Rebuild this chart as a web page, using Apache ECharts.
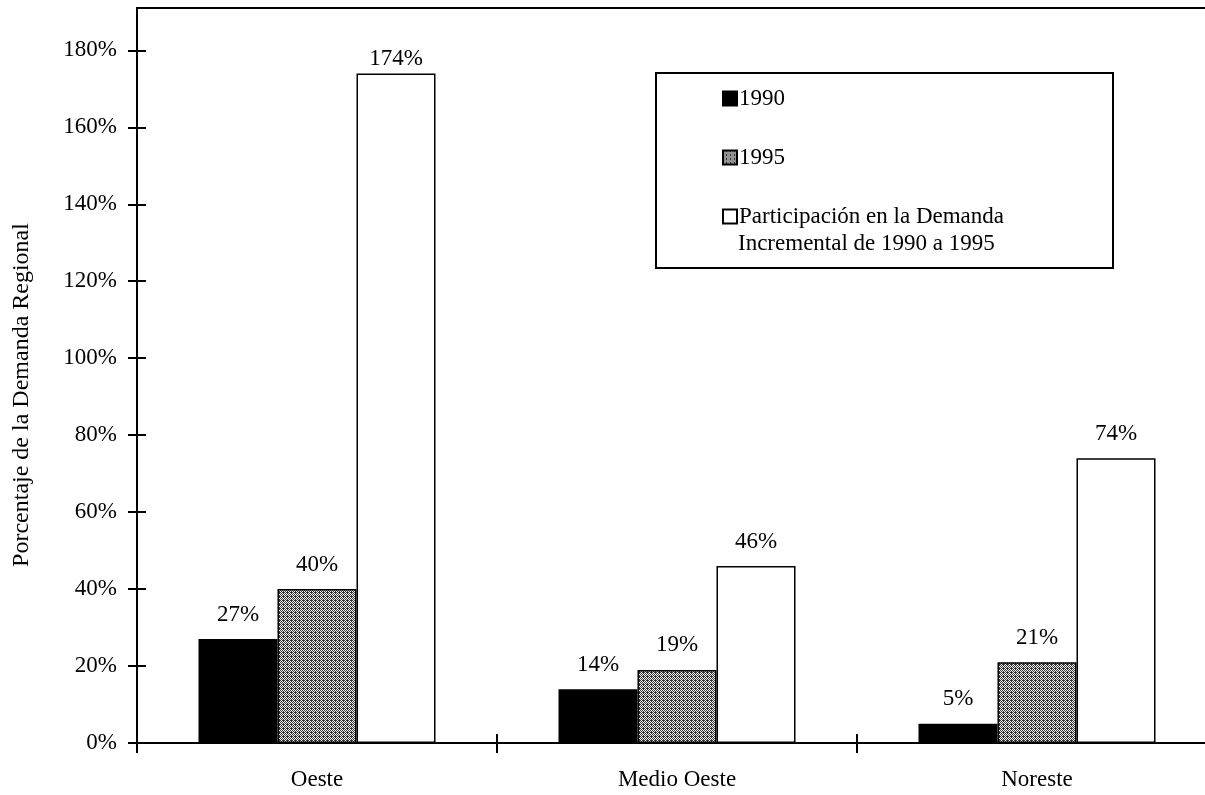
<!DOCTYPE html>
<html>
<head>
<meta charset="utf-8">
<script src="https://cdn.jsdelivr.net/npm/echarts@6/dist/echarts.min.js"></script>
<style>
  html, body { margin: 0; padding: 0; background: #fff; }
  #chart { width: 1205px; height: 795px; }
</style>
</head>
<body>
<div id="chart"></div>
<script>
var regions = ['Oeste', 'Medio Oeste', 'Noreste'];
var seriesNames = ['1990', '1995', 'Participación en la Demanda'];
var values1990 = [27, 14, 5];
var values1995 = [40, 19, 21];
var valuesIncremental = [174, 46, 74];
var yTicks = [0, 20, 40, 60, 80, 100, 120, 140, 160, 180];

var FONT = 'Liberation Serif';

// dithered gray fill like the printed original
function makePattern() {
    var c = document.createElement('canvas');
    c.width = 4; c.height = 4;
    var ctx = c.getContext('2d');
    ctx.fillStyle = '#f2f2f2';
    ctx.fillRect(0, 0, 4, 4);
    ctx.fillStyle = '#333';
    var dots = [[0,0],[2,0],[1,1],[3,1],[0,2],[2,2],[1,3],[3,3],[3,0]];
    dots.forEach(function (d) { ctx.fillRect(d[0], d[1], 1, 1); });
    return c;
}
var grayFill = { image: makePattern(), repeat: 'repeat' };

function barData(vals) {
    return vals.map(function (v) {
        if (v > 170) {
            return { value: v, label: { distance: 3 } };
        }
        return v;
    });
}

var chart = echarts.init(document.getElementById('chart'));

var labelStyle = {
    show: true,
    position: 'top',
    distance: 13,
    color: '#000',
    fontFamily: FONT,
    fontSize: 23,
    formatter: '{c}%'
};

var option = {
    animation: false,
    backgroundColor: '#fff',
    grid: {
        left: 137,
        top: 8,
        width: 1080,
        height: 735,
        outerBoundsMode: 'none',
        containLabel: false,
        show: true,
        borderColor: '#000',
        borderWidth: 2,
        backgroundColor: 'transparent'
    },
    legend: {
        orient: 'vertical',
        left: 717,
        top: 82,
        itemWidth: 14,
        itemHeight: 14,
        itemGap: 36,
        icon: 'rect',
        data: seriesNames,
        textStyle: { fontFamily: FONT, fontSize: 23, color: '#000', lineHeight: 23, padding: [0, 0, 0, -3] }
    },
    xAxis: [{
        type: 'category',
        data: regions,
        axisLine: { lineStyle: { color: '#000', width: 2 } },
        axisTick: { show: true, length: 10, lineStyle: { color: '#000', width: 2 } },
        axisLabel: { color: '#000', fontFamily: FONT, fontSize: 23, margin: 25 },
        splitLine: { show: false }
    }, {
        type: 'category',
        data: regions,
        position: 'bottom',
        axisLine: { show: false },
        axisTick: { show: true, inside: true, length: 9, lineStyle: { color: '#000', width: 2 } },
        axisLabel: { show: false },
        splitLine: { show: false }
    }],
    yAxis: [{
        type: 'value',
        min: 0,
        max: 191,
        interval: 20,
        axisLine: { show: true, lineStyle: { color: '#000', width: 2 } },
        axisTick: { show: true, length: 9, customValues: yTicks, lineStyle: { color: '#000', width: 2 } },
        axisLabel: { color: '#000', fontFamily: FONT, fontSize: 23, margin: 20, customValues: yTicks,
            formatter: '{value}%' },
        splitLine: { show: false }
    }, {
        type: 'value',
        min: 0,
        max: 191,
        interval: 20,
        position: 'left',
        axisLine: { show: false },
        axisTick: { show: true, inside: true, length: 9, customValues: yTicks, lineStyle: { color: '#000', width: 2 } },
        axisLabel: { show: false },
        splitLine: { show: false }
    }],
    series: [{
        name: seriesNames[0],
        type: 'bar',
        barGap: 0,
        barWidth: 79,
        data: barData(values1990),
        itemStyle: { color: '#000', borderColor: '#000', borderWidth: 1.5 },
        label: labelStyle
    }, {
        name: seriesNames[1],
        type: 'bar',
        barGap: 0,
        barWidth: 79,
        data: barData(values1995),
        itemStyle: { color: grayFill, borderColor: '#000', borderWidth: 1.5 },
        label: labelStyle
    }, {
        name: seriesNames[2],
        type: 'bar',
        barGap: 0,
        barWidth: 79,
        data: barData(valuesIncremental),
        itemStyle: { color: '#fff', borderColor: '#000', borderWidth: 1.5 },
        label: labelStyle
    }],
    graphic: [{
        type: 'rect',
        left: 655,
        top: 72,
        shape: { width: 457, height: 195 },
        style: { fill: 'transparent', stroke: '#000', lineWidth: 2 },
        z: 10
    }, {
        type: 'text',
        x: 738,
        y: 244,
        style: { text: 'Incremental de 1990 a 1995', font: '23px "Liberation Serif"', fill: '#000',
            textVerticalAlign: 'middle' },
        z: 10
    }, {
        type: 'text',
        x: 22,
        y: 395,
        rotation: Math.PI / 2,
        style: { text: 'Porcentaje de la Demanda Regional', font: '24px "Liberation Serif"', fill: '#000',
            textAlign: 'center', textVerticalAlign: 'middle' },
        z: 10
    }]
};

chart.setOption(option);
</script>
</body>
</html>
